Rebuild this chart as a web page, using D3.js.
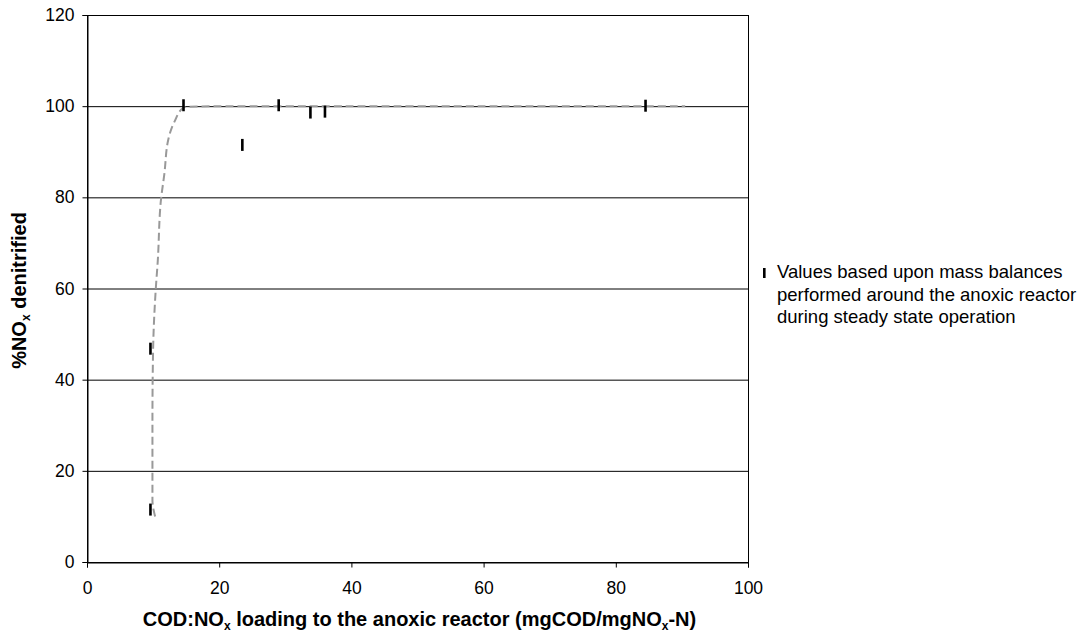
<!DOCTYPE html>
<html><head><meta charset="utf-8">
<script src="https://cdn.jsdelivr.net/npm/d3@7"></script>
<style>
body{margin:0;background:#fff;}
text{font-family:"Liberation Sans",Arial,sans-serif;}
</style></head>
<body><svg id="c" width="1083" height="637"></svg>
<script>
// Data
const pointX = [9.6, 9.6, 14.6, 23.5, 29.0, 33.8, 36.0, 84.5];
const pointY = [11.5, 46.8, 100.2, 91.5, 100.2, 98.6, 98.8, 100.1];
const curveX = [10.3, 9.9, 9.9, 10.0, 10.4, 10.7, 11.2, 11.7, 12.3, 13.2, 14.7, 20, 40, 60, 80, 90.5];
const curveY = [10, 13.6, 31, 46.6, 59.8, 65.9, 79.6, 85.1, 92.7, 96.5, 99.8, 100, 100, 100, 100, 100];
const xTicks = [0, 20, 40, 60, 80, 100];
const yTicks = [0, 20, 40, 60, 80, 100, 120];
const legendLines = ["Values based upon mass balances", "performed around the anoxic reactor", "during steady state operation"];

const svg = d3.select("#c");
const L = 87, R = 748, T = 15, B = 562;
const x = d3.scaleLinear().domain([0, 100]).range([L, R]);
const y = d3.scaleLinear().domain([0, 120]).range([B, T]);

// gridlines
svg.append("g").selectAll("line").data(yTicks.filter(d => d > 0 && d < 120)).join("line")
  .attr("x1", L).attr("x2", R).attr("y1", d => y(d) + 0.5).attr("y2", d => y(d) + 0.5)
  .attr("stroke", "#000").attr("stroke-width", 1);

// frame
svg.append("rect").attr("x", L + 0.5).attr("y", T + 0.5).attr("width", R - L).attr("height", B - T)
  .attr("fill", "none").attr("stroke", "#000").attr("stroke-width", 1);

// axes
const xa = svg.append("g").attr("transform", `translate(0,${B + 0.5})`)
  .call(d3.axisBottom(x).tickValues(xTicks).tickSize(5).tickPadding(14).tickFormat(d3.format("d")));
const ya = svg.append("g").attr("transform", `translate(${L + 0.5},0)`)
  .call(d3.axisLeft(y).tickValues(yTicks).tickSize(5).tickPadding(8).tickFormat(d3.format("d")));
[xa, ya].forEach(g => {
  g.attr("font-size", 17.5).attr("font-family", "Liberation Sans, Arial, sans-serif");
  g.select(".domain").attr("stroke", "#000");
  g.selectAll(".tick line").attr("stroke", "#000");
  g.selectAll(".tick text").attr("fill", "#000");
});

// dashed curve
const curve = curveX.map((d, i) => [d, curveY[i]]);
svg.append("path").datum(curve)
  .attr("d", d3.line().x(d => x(d[0])).y(d => y(d[1])).curve(d3.curveMonotoneY))
  .attr("fill", "none").attr("stroke", "#999").attr("stroke-width", 2).attr("stroke-dasharray", "8,4");

// markers
svg.append("g").selectAll("rect").data(pointX.map((d, i) => [d, pointY[i]])).join("rect")
  .attr("x", d => x(d[0]) - 1.3).attr("y", d => y(d[1]) - 6).attr("width", 2.6).attr("height", 12)
  .attr("fill", "#000");

// axis titles
const xt = svg.append("text").attr("x", (L + R) / 2 + 2).attr("y", 626).attr("text-anchor", "middle")
  .attr("font-size", 20).attr("font-weight", "bold");
xt.append("tspan").text("COD:NO");
xt.append("tspan").text("x").attr("font-size", 12).attr("dy", 4);
xt.append("tspan").text(" loading to the anoxic reactor (mgCOD/mgNO").attr("dy", -4);
xt.append("tspan").text("x").attr("font-size", 12).attr("dy", 4);
xt.append("tspan").text("-N)").attr("dy", -4);

const yt = svg.append("text").attr("transform", `translate(26,${(T + B) / 2 + 2}) rotate(-90)`)
  .attr("text-anchor", "middle").attr("font-size", 20).attr("font-weight", "bold");
yt.append("tspan").text("%NO");
yt.append("tspan").text("x").attr("font-size", 12).attr("dy", 4);
yt.append("tspan").text(" denitrified").attr("dy", -4);

// legend
svg.append("rect").attr("x", 763).attr("y", 268).attr("width", 2.6).attr("height", 10).attr("fill", "#000");
svg.append("g").selectAll("text").data(legendLines).join("text")
  .attr("x", 777).attr("y", (d, i) => 278 + i * 22.5).attr("font-size", 18.5).attr("fill", "#000").text(d => d);
</script></body></html>
